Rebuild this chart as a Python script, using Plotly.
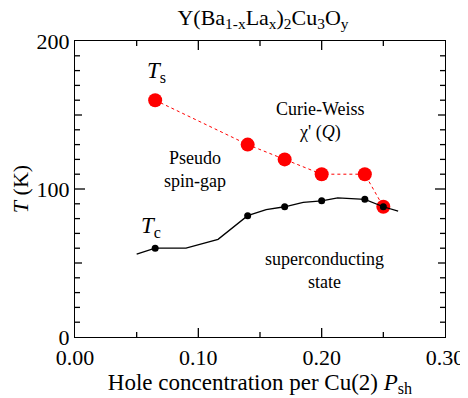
import plotly.graph_objects as go

# Data
ts_x = [0.065, 0.14, 0.17, 0.20, 0.235, 0.25]
ts_T = [160, 130, 120, 110, 110, 88]

tc_pts_x = [0.065, 0.14, 0.17, 0.20, 0.235, 0.25]
tc_pts_T = [60, 82, 88, 92, 93, 88]

tc_line_x = [0.050, 0.065, 0.09, 0.116, 0.14, 0.155, 0.17, 0.185, 0.20, 0.213, 0.235, 0.25, 0.262]
tc_line_T = [56, 60, 60, 66, 82, 86, 88, 91, 92, 94, 93, 88, 85]

y_tickvals = [0, 100, 200]
y_ticktext = ["0", "100", "200"]
x_tickvals = [0.0, 0.1, 0.2, 0.3]
x_ticktext = ["0.00", "0.10", "0.20", "0.30"]

# tick-mark positions (axis decoration)
x_major_marks = [0.1, 0.2]
x_minor_marks = [0.05, 0.15, 0.25]
y_major_marks = [100]
y_mid_marks = [50, 150]
y_minor_marks = [10, 20, 30, 40, 60, 70, 80, 90, 110, 120, 130, 140, 160, 170, 180, 190]

X_RANGE = [0, 0.3]
Y_RANGE = [0, 200]
PX_PER_X = 370 / (X_RANGE[1] - X_RANGE[0])
PX_PER_Y = 296 / (Y_RANGE[1] - Y_RANGE[0])

FONT = "Liberation Serif"

# Build inward tick segments in data units
tx, ty = [], []
def add_xtick(v, px):
    d = px / PX_PER_Y
    tx.extend([v, v, None, v, v, None])
    ty.extend([Y_RANGE[0], Y_RANGE[0] + d, None, Y_RANGE[1], Y_RANGE[1] - d, None])

def add_ytick(v, px):
    d = px / PX_PER_X
    tx.extend([X_RANGE[0], X_RANGE[0] + d, None, X_RANGE[1], X_RANGE[1] - d, None])
    ty.extend([v, v, None, v, v, None])

for v in x_major_marks:
    add_xtick(v, 9)
for v in x_minor_marks:
    add_xtick(v, 5)
for v in y_major_marks:
    add_ytick(v, 10)
for v in y_mid_marks:
    add_ytick(v, 7)
for v in y_minor_marks:
    add_ytick(v, 5)

fig = go.Figure()
fig.add_trace(go.Scatter(x=tx, y=ty, mode="lines", line=dict(color="black", width=1.3),
                         hoverinfo="skip", showlegend=False, cliponaxis=False))
fig.add_trace(go.Scatter(x=ts_x, y=ts_T, mode="lines+markers",
                         line=dict(color="red", width=1, dash="dot"),
                         marker=dict(color="red", size=14), showlegend=False))
fig.add_trace(go.Scatter(x=tc_line_x, y=tc_line_T, mode="lines",
                         line=dict(color="black", width=1.3), showlegend=False))
fig.add_trace(go.Scatter(x=tc_pts_x, y=tc_pts_T, mode="markers",
                         marker=dict(color="black", size=7), showlegend=False))

fig.update_xaxes(range=X_RANGE, tickvals=x_tickvals, ticktext=x_ticktext, ticks="",
                 showline=True, linecolor="black", linewidth=1.3, mirror=True,
                 showgrid=False, zeroline=False, automargin=False,
                 tickfont=dict(family=FONT, size=22, color="black"),
                 title=dict(text="Hole concentration per Cu(2) <i>P</i><sub>sh</sub>",
                            font=dict(family=FONT, size=23, color="black"), standoff=2))
fig.update_yaxes(range=Y_RANGE, tickvals=y_tickvals, ticktext=y_ticktext, ticks="",
                 showline=True, linecolor="black", linewidth=1.3, mirror=True,
                 showgrid=False, zeroline=False, automargin=False,
                 tickfont=dict(family=FONT, size=22, color="black"),
                 title=dict(text="<i>T</i> (K)", font=dict(family=FONT, size=22, color="black"), standoff=2))

ann_font = dict(family=FONT, size=18, color="black")
big_font = dict(family=FONT, size=23, color="black")
anns = [
    dict(x=0.066, y=179, text="<i>T</i><sub>s</sub>", font=big_font),
    dict(x=0.062, y=74, text="<i>T</i><sub>c</sub>", font=big_font),
    dict(x=0.199, y=146, text="Curie-Weiss<br>χ' (<i>Q</i>)", font=ann_font),
    dict(x=0.097, y=113, text="Pseudo<br>spin-gap", font=ann_font),
    dict(x=0.202, y=45, text="superconducting<br>state", font=ann_font),
]
for a in anns:
    fig.add_annotation(xref="x", yref="y", showarrow=False, **a)

fig.update_layout(
    width=460, height=390,
    margin=dict(l=67, r=23, t=33, b=61, autoexpand=False),
    plot_bgcolor="white", paper_bgcolor="white",
    title=dict(text="Y(Ba<sub>1-x</sub>La<sub>x</sub>)<sub>2</sub>Cu<sub>3</sub>O<sub>y</sub>",
               x=255/460, xanchor="center", y=1 - 9/390, yanchor="middle",
               font=dict(family=FONT, size=22, color="black")),
)

fig.write_html("out.html")
